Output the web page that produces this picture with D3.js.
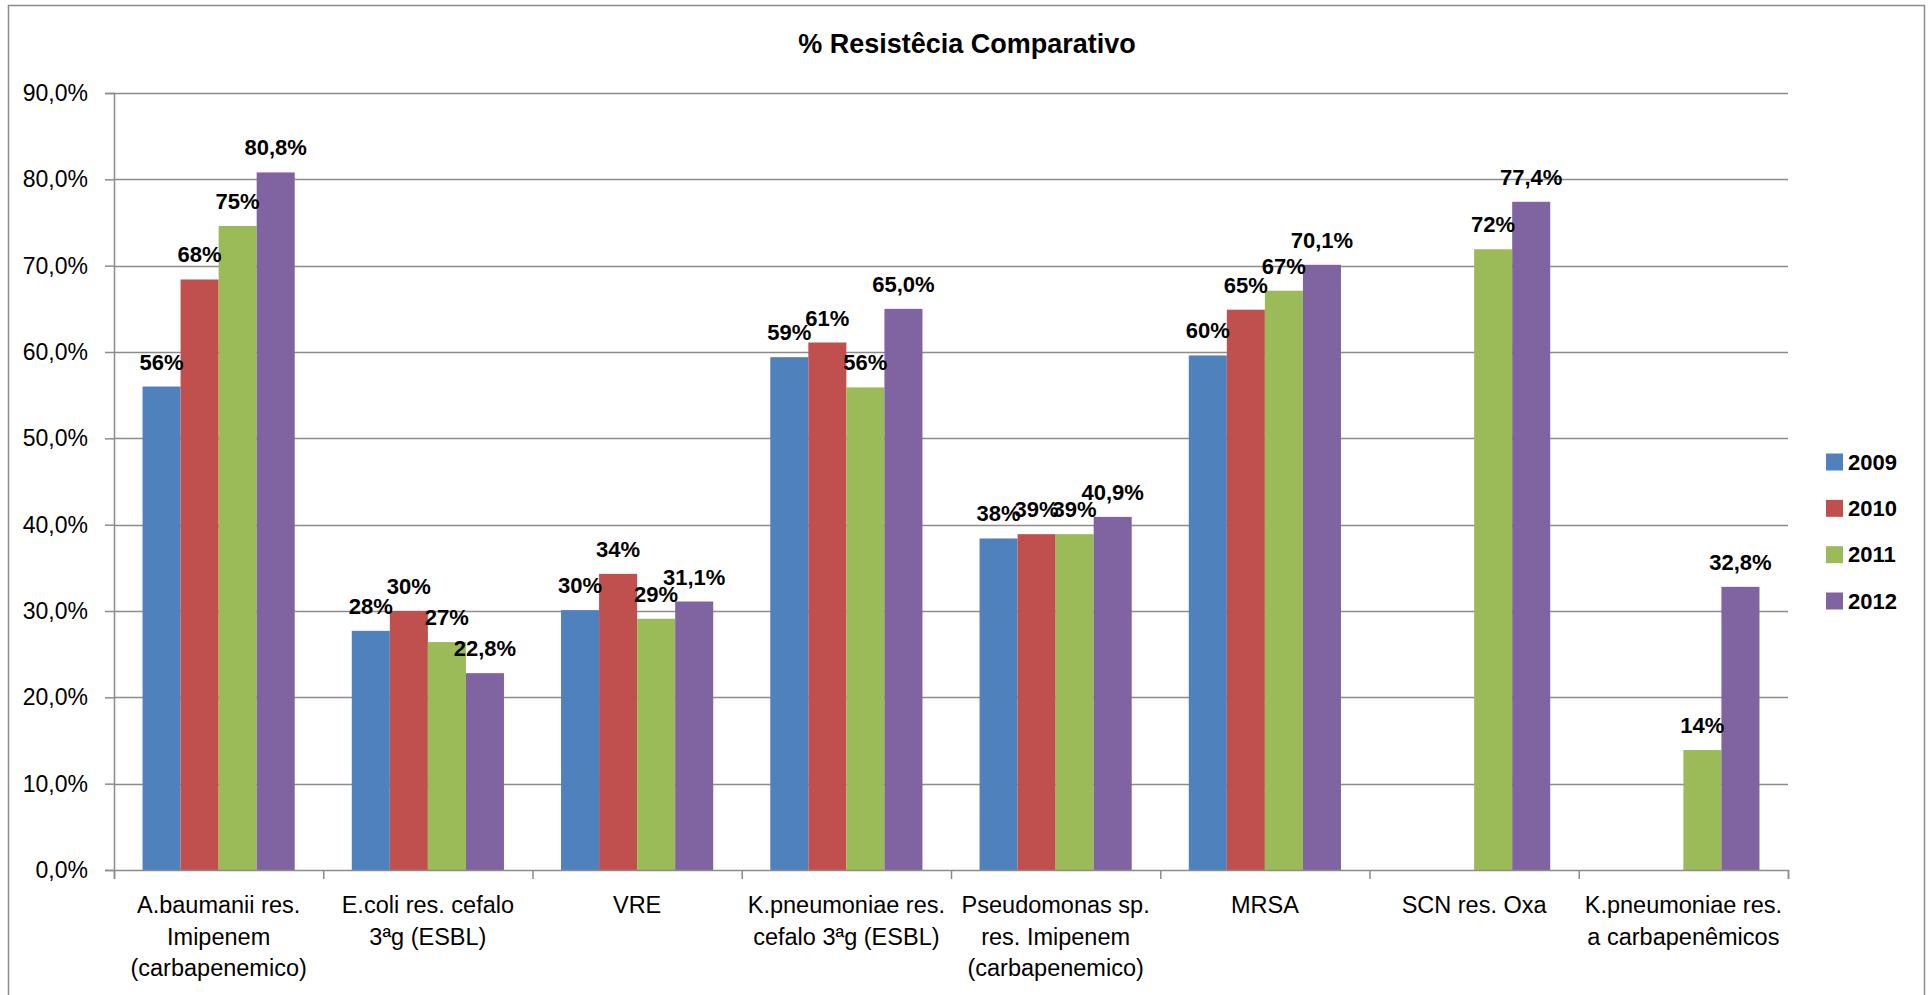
<!DOCTYPE html>
<html>
<head>
<meta charset="utf-8">
<script src="https://cdn.jsdelivr.net/npm/d3@7"></script>
<style>
  html, body { margin: 0; padding: 0; background: #fff; }
  svg { display: block; }
  text { font-family: "Liberation Sans", Arial, sans-serif; }
</style>
</head>
<body>
<svg id="chart" width="1930" height="995"></svg>
<script>
// ---- DATA ----
const title = "% Resistêcia Comparativo";
const categories = [
  ["A.baumanii res.", "Imipenem", "(carbapenemico)"],
  ["E.coli res. cefalo", "3ªg (ESBL)"],
  ["VRE"],
  ["K.pneumoniae res.", "cefalo 3ªg (ESBL)"],
  ["Pseudomonas sp.", "res. Imipenem", "(carbapenemico)"],
  ["MRSA"],
  ["SCN res. Oxa"],
  ["K.pneumoniae res.", "a carbapenêmicos"]
];
const seriesNames = ["2009", "2010", "2011", "2012"];
const values2009 = [56.0, 27.7, 30.1, 59.4, 38.4, 59.6, null, null];
const values2010 = [68.4, 30.0, 34.3, 61.1, 38.9, 64.9, null, null];
const values2011 = [74.6, 26.4, 29.1, 55.9, 38.9, 67.1, 71.9, 13.9];
const values2012 = [80.8, 22.8, 31.1, 65.0, 40.9, 70.1, 77.4, 32.8];
const labels2009 = ["56%", "28%", "30%", "59%", "38%", "60%", null, null];
const labels2010 = ["68%", "30%", "34%", "61%", "39%", "65%", null, null];
const labels2011 = ["75%", "27%", "29%", "56%", "39%", "67%", "72%", "14%"];
const labels2012 = ["80,8%", "22,8%", "31,1%", "65,0%", "40,9%", "70,1%", "77,4%", "32,8%"];
const yTicks = [0, 10, 20, 30, 40, 50, 60, 70, 80, 90];
const colors = ["#4F81BD", "#C0504D", "#9BBB59", "#8064A2"];

const seriesValues = [values2009, values2010, values2011, values2012];
const seriesLabels = [labels2009, labels2010, labels2011, labels2012];

// ---- LAYOUT ----
const svg = d3.select("#chart");
const plot = { left: 114, right: 1788, top: 93, bottom: 870 };
const gridColor = "#8c8c8c";

// outer frame (bottom edge lies outside the picture)
svg.append("rect")
  .attr("x", 8.5).attr("y", 5.5)
  .attr("width", 1916).attr("height", 1000)
  .attr("fill", "#fff").attr("stroke", "#8c8c8c").attr("stroke-width", 1.5);

const catIdx = d3.range(categories.length);
const x0 = d3.scaleBand().domain(catIdx).range([plot.left, plot.right]).padding(0);
const bw = x0.bandwidth();
const barW = bw / 5.5;
const x1 = d3.scaleBand().domain(d3.range(seriesNames.length))
  .range([barW * 0.75, barW * 4.75]).padding(0);
const y = d3.scaleLinear().domain([0, 90]).range([plot.bottom, plot.top]);

const loc = d3.formatLocale({ decimal: ",", thousands: ".", grouping: [3], currency: ["", ""] });
const fmt = loc.format(".1f");

// gridlines
svg.append("g").selectAll("line").data(yTicks.filter(d => d > 0)).join("line")
  .attr("x1", plot.left).attr("x2", plot.right)
  .attr("y1", d => Math.round(y(d)) + 0.5).attr("y2", d => Math.round(y(d)) + 0.5)
  .attr("stroke", gridColor).attr("stroke-width", 1.5);

// y axis
const yAxis = d3.axisLeft(y).tickValues(yTicks).tickSize(9).tickPadding(17)
  .tickFormat(d => fmt(d) + "%");
const gy = svg.append("g").attr("transform", `translate(${plot.left},0)`).call(yAxis);
gy.select(".domain").attr("stroke", gridColor).attr("stroke-width", 1.5);
gy.selectAll(".tick line").attr("stroke", gridColor).attr("stroke-width", 1.5);
gy.selectAll(".tick text").attr("font-size", 23).attr("fill", "#000")
  .style("font-family", '"Liberation Sans", Arial, sans-serif');

// bars
const gBars = svg.append("g");
seriesValues.forEach((vals, s) => {
  gBars.append("g").selectAll("rect")
    .data(catIdx.filter(i => vals[i] != null))
    .join("rect")
    .attr("x", i => x0(i) + x1(s))
    .attr("width", x1.bandwidth())
    .attr("y", i => y(vals[i]))
    .attr("height", i => y(0) - y(vals[i]))
    .attr("fill", colors[s]);
});

// x axis
const xAxis = d3.axisBottom(d3.scaleLinear().domain([0, categories.length]).range([plot.left, plot.right]))
  .tickValues(d3.range(categories.length + 1)).tickSize(9).tickFormat("");
const gx = svg.append("g").attr("transform", `translate(0,${plot.bottom})`).call(xAxis);
gx.select(".domain").attr("stroke", gridColor).attr("stroke-width", 1.5);
gx.selectAll(".tick line").attr("stroke", gridColor).attr("stroke-width", 1.5);

// category labels
const gCat = svg.append("g");
categories.forEach((lines, i) => {
  const t = gCat.append("text")
    .attr("x", x0(i) + bw / 2)
    .attr("y", 913)
    .attr("text-anchor", "middle")
    .attr("font-size", 23.5)
    .attr("fill", "#000");
  lines.forEach((ln, k) => {
    t.append("tspan").attr("x", x0(i) + bw / 2).attr("dy", k === 0 ? 0 : 31.5).text(ln);
  });
});

// data labels
const gLab = svg.append("g");
seriesValues.forEach((vals, s) => {
  gLab.append("g").selectAll("text")
    .data(catIdx.filter(i => vals[i] != null && seriesLabels[s][i] != null))
    .join("text")
    .attr("x", i => x0(i) + x1(s) + x1.bandwidth() / 2)
    .attr("y", i => y(vals[i]) - 17)
    .attr("text-anchor", "middle")
    .attr("font-size", 22)
    .attr("font-weight", "bold")
    .attr("fill", "#000")
    .text(i => seriesLabels[s][i]);
});

// title
svg.append("text")
  .attr("x", 967).attr("y", 53)
  .attr("text-anchor", "middle")
  .attr("font-size", 27).attr("font-weight", "bold")
  .attr("fill", "#000")
  .text(title);

// legend
const legend = svg.append("g");
const legY = d3.scalePoint().domain(seriesNames).range([462, 601]);
seriesNames.forEach((name, s) => {
  legend.append("rect")
    .attr("x", 1826).attr("y", legY(name) - 8.5)
    .attr("width", 17).attr("height", 17)
    .attr("fill", colors[s]);
  legend.append("text")
    .attr("x", 1848).attr("y", legY(name))
    .attr("dominant-baseline", "central")
    .attr("font-size", 22).attr("font-weight", "bold")
    .attr("fill", "#000")
    .text(name);
});
</script>
</body>
</html>
